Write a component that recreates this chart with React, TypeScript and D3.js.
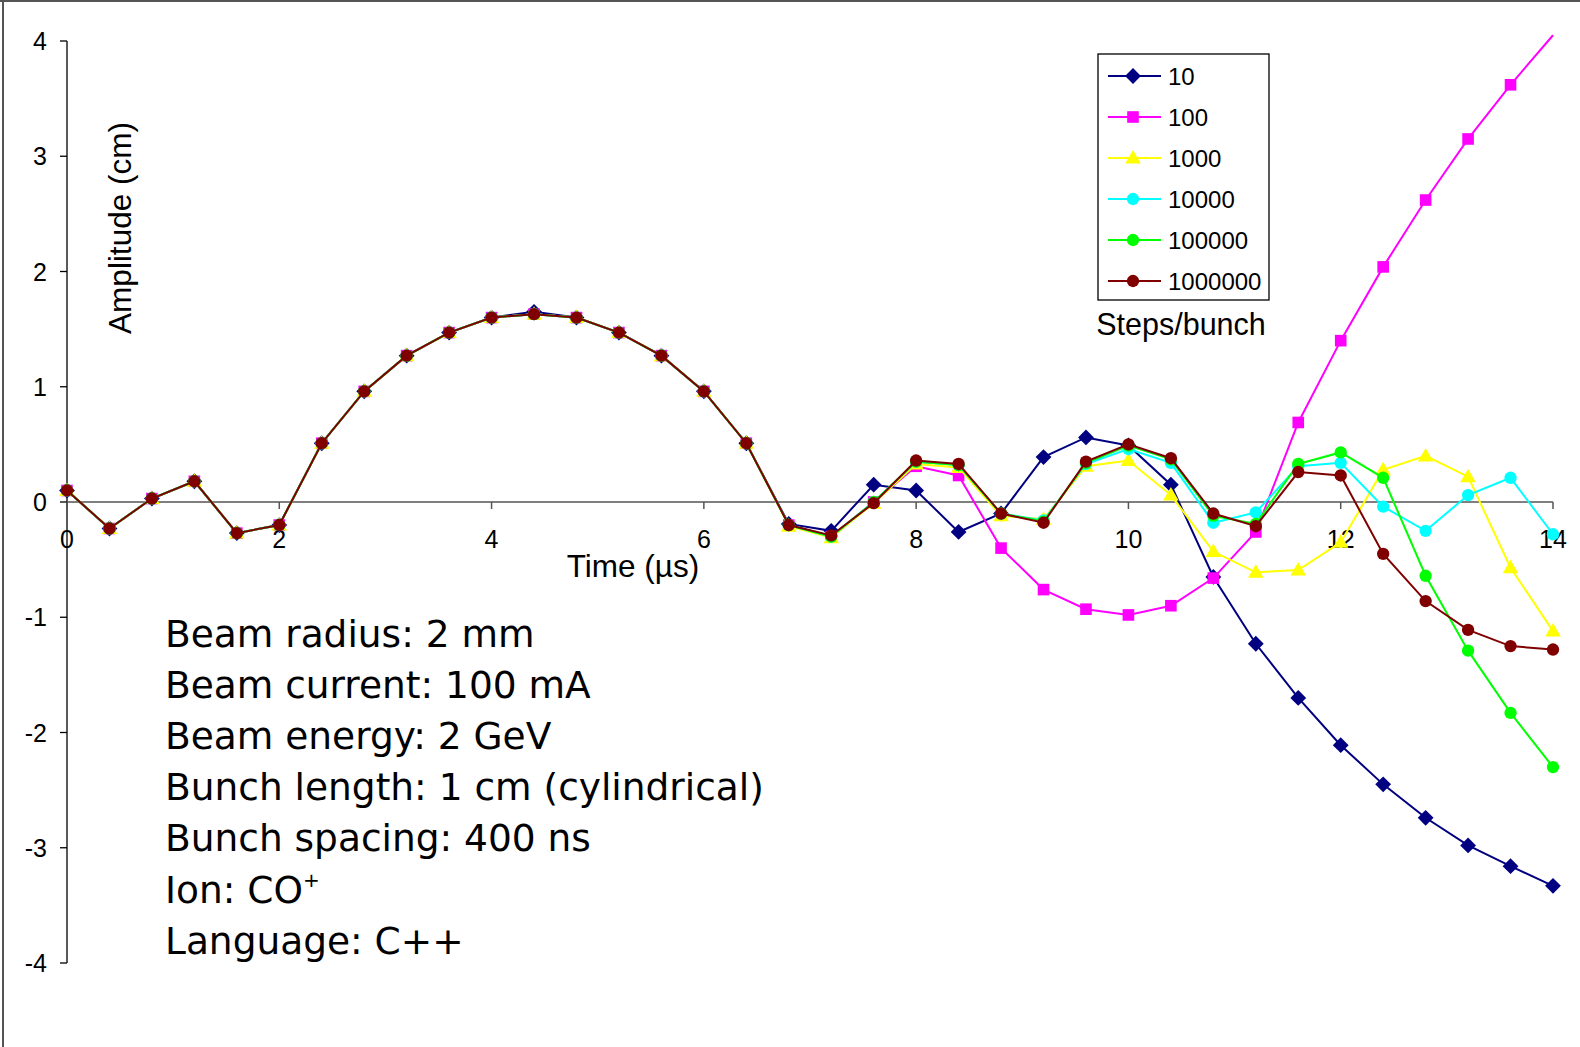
import React from 'react';
import * as d3 from 'd3';

// time axis (µs), one point per bunch
const times = [0, 0.4, 0.8, 1.2, 1.6, 2.0, 2.4, 2.8, 3.2, 3.6, 4.0, 4.4, 4.8, 5.2, 5.6, 6.0, 6.4,
  6.8, 7.2, 7.6, 8.0, 8.4, 8.8, 9.2, 9.6, 10.0, 10.4, 10.8, 11.2, 11.6, 12.0, 12.4, 12.8, 13.2, 13.6, 14.0];

const steps10 = [0.1, -0.23, 0.03, 0.18, -0.27, -0.2, 0.51, 0.96, 1.27, 1.47, 1.6, 1.65, 1.6, 1.47, 1.27, 0.96, 0.51,
  -0.19, -0.25, 0.15, 0.1, -0.26, -0.1, 0.39, 0.56, 0.49, 0.15, -0.65, -1.23, -1.70, -2.11, -2.45, -2.74, -2.98, -3.16, -3.33];
const steps100 = [0.1, -0.23, 0.03, 0.18, -0.27, -0.2, 0.51, 0.96, 1.27, 1.47, 1.6, 1.63, 1.6, 1.47, 1.27, 0.96, 0.51,
  -0.2, -0.3, 0.0, 0.31, 0.23, -0.4, -0.76, -0.93, -0.98, -0.9, -0.66, -0.26, 0.69, 1.40, 2.04, 2.62, 3.15, 3.62, 4.05];
const steps1000 = [0.1, -0.23, 0.03, 0.18, -0.27, -0.2, 0.51, 0.96, 1.27, 1.47, 1.6, 1.63, 1.6, 1.47, 1.27, 0.96, 0.51,
  -0.21, -0.31, -0.01, 0.33, 0.3, -0.12, -0.15, 0.31, 0.36, 0.06, -0.43, -0.61, -0.59, -0.35, 0.28, 0.40, 0.22, -0.57, -1.12];
const steps10000 = [0.1, -0.23, 0.03, 0.18, -0.27, -0.2, 0.51, 0.96, 1.27, 1.47, 1.6, 1.63, 1.6, 1.47, 1.27, 0.96, 0.51,
  -0.2, -0.3, 0.0, 0.35, 0.32, -0.1, -0.16, 0.33, 0.46, 0.34, -0.18, -0.09, 0.31, 0.34, -0.04, -0.25, 0.06, 0.21, -0.28];
const steps100000 = [0.1, -0.23, 0.03, 0.18, -0.27, -0.2, 0.51, 0.96, 1.27, 1.47, 1.6, 1.63, 1.6, 1.47, 1.27, 0.96, 0.51,
  -0.2, -0.3, 0.0, 0.35, 0.32, -0.1, -0.17, 0.34, 0.49, 0.37, -0.12, -0.19, 0.33, 0.43, 0.21, -0.64, -1.29, -1.83, -2.30];
const steps1000000 = [0.1, -0.23, 0.03, 0.18, -0.27, -0.2, 0.51, 0.96, 1.27, 1.47, 1.6, 1.63, 1.6, 1.47, 1.27, 0.96, 0.51,
  -0.2, -0.29, -0.01, 0.36, 0.33, -0.1, -0.18, 0.35, 0.5, 0.38, -0.1, -0.21, 0.26, 0.23, -0.45, -0.86, -1.11, -1.25, -1.28];

const seriesNames = ['10', '100', '1000', '10000', '100000', '1000000'];
const seriesValues = [steps10, steps100, steps1000, steps10000, steps100000, steps1000000];
const seriesColors = ['#000080', '#ff00ff', '#ffff00', '#00ffff', '#00ff00', '#800000'];
const seriesMarkers = ['diamond', 'square', 'triangle', 'circle', 'circle', 'circle'];

const xTicks = [0, 2, 4, 6, 8, 10, 12, 14];
const yTicks = [-4, -3, -2, -1, 0, 1, 2, 3, 4];

const notes = [
  'Beam radius: 2 mm',
  'Beam current: 100 mA',
  'Beam energy: 2 GeV',
  'Bunch length: 1 cm (cylindrical)',
  'Bunch spacing: 400 ns',
  'Ion: CO',
  'Language: C++',
];

const W = 1580, H = 1047;
const x = d3.scaleLinear().domain([0, 14]).range([67, 1553]);
const y = d3.scaleLinear().domain([-4, 4]).range([963, 41]);

function markerPath(kind: string) {
  if (kind === 'diamond') return d3.symbol().type(d3.symbolSquare).size(125)()!;
  if (kind === 'square') return d3.symbol().type(d3.symbolSquare).size(135)()!;
  if (kind === 'triangle') return d3.symbol().type(d3.symbolTriangle).size(105)()!;
  return d3.symbol().type(d3.symbolCircle).size(120)()!;
}

function Marker({ kind, cx, cy, color }: { kind: string; cx: number; cy: number; color: string }) {
  const rot = kind === 'diamond' ? ' rotate(45)' : '';
  const dy = kind === 'triangle' ? 1 : 0;
  return <path d={markerPath(kind)} transform={`translate(${cx},${cy + dy})${rot}`} fill={color} />;
}

export default function App() {
  const line = d3.line<number>().x((_, i) => x(times[i])).y(d => y(d));
  const axisFont = '"Liberation Sans", Arial, sans-serif';

  return (
    <svg width={W} height={H} style={{ position: 'absolute', left: 0, top: 0, background: '#fff' }}>
      <rect x={0} y={0} width={W} height={H} fill="#fff" />
      {/* chart frame (only left/top visible) */}
      <line x1={3} y1={0} x2={3} y2={H} stroke="#555" strokeWidth={2} />
      <line x1={0} y1={1} x2={W} y2={1} stroke="#555" strokeWidth={2} />

      {/* y axis */}
      <line x1={x(0)} y1={y(4)} x2={x(0)} y2={y(-4)} stroke="#000" strokeWidth={1.3} />
      {yTicks.map(t => (
        <g key={'y' + t}>
          <line x1={x(0) - 7} x2={x(0)} y1={y(t)} y2={y(t)} stroke="#000" strokeWidth={1.3} />
          <text x={47} y={y(t) + 9} textAnchor="end" fontFamily={axisFont} fontSize={25}>{t}</text>
        </g>
      ))}

      {/* x axis */}
      <line x1={x(0)} y1={y(0)} x2={x(14)} y2={y(0)} stroke="#555" strokeWidth={1.5} />
      {xTicks.map(t => (
        <g key={'x' + t}>
          <line x1={x(t)} x2={x(t)} y1={y(0)} y2={y(0) + 7} stroke="#555" strokeWidth={1.5} />
          <text x={x(t)} y={548} textAnchor="middle" fontFamily={axisFont} fontSize={25}>{t}</text>
        </g>
      ))}

      <text transform="translate(131,228) rotate(-90)" textAnchor="middle" fontFamily={axisFont} fontSize={31.5}>Amplitude (cm)</text>
      <text x={633} y={577} textAnchor="middle" fontFamily={axisFont} fontSize={31.5}>Time (µs)</text>

      {/* series */}
      {seriesValues.map((vals, s) => (
        <g key={seriesNames[s]}>
          <path d={line(vals)!} fill="none" stroke={seriesColors[s]} strokeWidth={2} />
          {vals.map((v, i) => v > 4 ? null : (
            <Marker key={i} kind={seriesMarkers[s]} cx={x(times[i])} cy={y(v)} color={seriesColors[s]} />
          ))}
        </g>
      ))}

      {/* legend */}
      <rect x={1098} y={54} width={171} height={246} fill="#fff" stroke="#000" strokeWidth={1.3} />
      {seriesNames.map((name, s) => {
        const cy = 76 + s * 41;
        return (
          <g key={'lg' + name}>
            <line x1={1108} x2={1161} y1={cy} y2={cy} stroke={seriesColors[s]} strokeWidth={2} />
            <Marker kind={seriesMarkers[s]} cx={1133} cy={cy} color={seriesColors[s]} />
            <text x={1168} y={cy + 9} fontFamily={axisFont} fontSize={24}>{name}</text>
          </g>
        );
      })}
      <text x={1181} y={335} textAnchor="middle" fontFamily={axisFont} fontSize={30.5}>Steps/bunch</text>

      {/* run parameters */}
      {notes.map((n, i) => (
        <text key={n} x={165} y={647 + i * 51.1} fontFamily='"DejaVu Sans", sans-serif' fontSize={37.5}>
          {n}
          {n === 'Ion: CO' ? <tspan dy={-16} fontSize={20}>+</tspan> : null}
        </text>
      ))}
    </svg>
  );
}
